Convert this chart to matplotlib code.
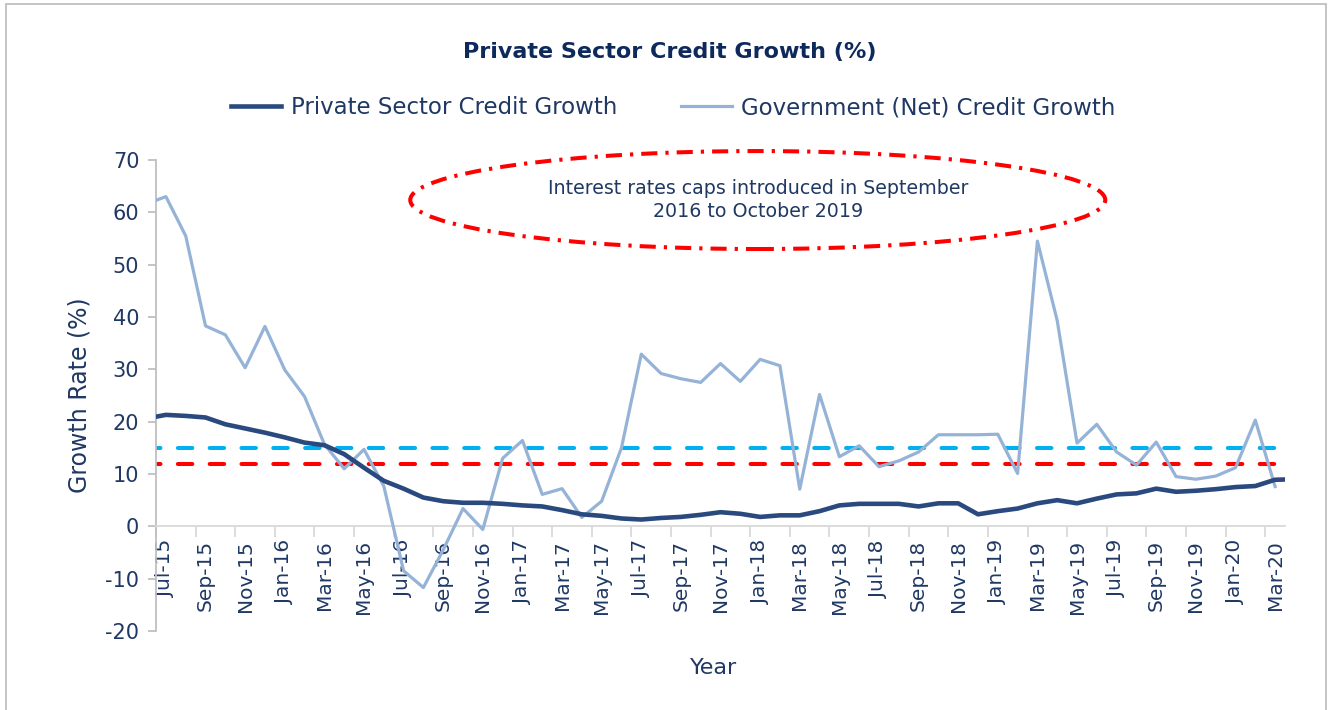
import matplotlib
matplotlib.use("Agg")
import matplotlib.pyplot as plt
from matplotlib.patches import Ellipse, Rectangle
from matplotlib.ticker import FixedLocator

plt.rcParams['font.family'] = ['DejaVu Sans']
plt.rcParams['axes.unicode_minus'] = False

# monthly data, Jun-15 .. Apr-20 (first and last points sit outside the axis and get clipped)
private = [20.6, 21.3, 21.1, 20.8, 19.5, 18.7, 17.9,
           17.0, 16.0, 15.5, 13.8, 11.2, 8.7, 7.2, 5.5, 4.8, 4.5, 4.5, 4.3,
           4.0, 3.8, 3.1, 2.3, 2.0, 1.5, 1.3, 1.6, 1.8, 2.2, 2.7, 2.4,
           1.8, 2.1, 2.1, 2.9, 4.0, 4.3, 4.3, 4.3, 3.8, 4.4, 4.4, 2.3,
           2.9, 3.4, 4.4, 5.0, 4.4, 5.3, 6.1, 6.3, 7.2, 6.6, 6.8, 7.1,
           7.5, 7.7, 8.9, 9.0]
# Jun-15 .. Mar-20
government = [61.6, 63.0, 55.5, 38.3, 36.6, 30.3, 38.2,
              29.9, 24.8, 15.7, 11.0, 14.7, 7.7, -8.5, -11.7, -4.5, 3.4, -0.6, 13.0,
              16.4, 6.1, 7.2, 1.7, 4.8, 15.0, 32.9, 29.2, 28.2, 27.5, 31.1, 27.7,
              31.9, 30.7, 7.1, 25.2, 13.3, 15.4, 11.4, 12.5, 14.2, 17.5, 17.5, 17.5,
              17.6, 10.1, 54.5, 39.3, 15.9, 19.5, 14.2, 11.7, 16.1, 9.5, 9.0, 9.6,
              11.2, 20.3, 7.6]
cap_high = 15
cap_low = 12

labels = ["Jul-15", "Sep-15", "Nov-15", "Jan-16", "Mar-16", "May-16", "Jul-16",
          "Sep-16", "Nov-16", "Jan-17", "Mar-17", "May-17", "Jul-17", "Sep-17",
          "Nov-17", "Jan-18", "Mar-18", "May-18", "Jul-18", "Sep-18", "Nov-18",
          "Jan-19", "Mar-19", "May-19", "Jul-19", "Sep-19", "Nov-19", "Jan-20",
          "Mar-20"]
n_months = 57  # Jul-15 .. Mar-20

navy = '#1F3864'
dark = '#2A4A7F'
light = '#95B3D7'

fig = plt.figure(figsize=(13.28, 7.10), dpi=100)
ax = fig.add_axes([156/1328, 1 - 631/710, 1129/1328, 471/710])

x_priv = list(range(-1, len(private) - 1))
x_gov = list(range(-1, len(government) - 1))

ax.plot([-1, n_months - 1], [cap_high, cap_high], color='#00B0F0', lw=2.9,
        dashes=(3.6, 4.3), dash_capstyle='round', zorder=2)
ax.plot([-1, n_months - 1], [cap_low, cap_low], color='#FF0000', lw=2.9,
        dashes=(3.6, 4.3), dash_capstyle='round', zorder=2)
ax.plot(x_gov, government, color=light, lw=2.3, zorder=3,
        label="Government (Net) Credit Growth")
ax.plot(x_priv, private, color=dark, lw=3.3, zorder=4,
        label="Private Sector Credit Growth")

ax.set_xlim(-0.5, n_months - 0.5)
ax.set_ylim(-20, 70)
ax.set_yticks(range(-20, 71, 10))

# category axis: tick marks between categories, labels on categories
ax.xaxis.set_major_locator(FixedLocator([i - 0.5 for i in range(0, n_months + 1, 2)]))
ax.xaxis.set_major_formatter(plt.NullFormatter())
ax.xaxis.set_minor_locator(FixedLocator(list(range(0, n_months, 2))))
ax.set_xticklabels(labels, minor=True)
ax.tick_params(axis='x', which='major', length=8, width=1.3, color='#D9D9D9', direction='out')
ax.tick_params(axis='x', which='minor', length=0, pad=10, labelsize=14.5,
               labelcolor=navy, labelrotation=90)
ax.tick_params(axis='y', length=6, width=1.3, color='#BFBFBF', labelsize=15,
               labelcolor=navy, pad=6)

ax.spines['bottom'].set_position(('data', 0))
ax.spines['bottom'].set_color('#D9D9D9')
ax.spines['bottom'].set_linewidth(1.3)
ax.spines['left'].set_color('#BFBFBF')
ax.spines['left'].set_linewidth(1.3)
ax.spines['top'].set_visible(False)
ax.spines['right'].set_visible(False)

ax.set_ylabel("Growth Rate (%)", fontsize=17, color=navy, labelpad=10)
fig.text(714/1328, 1 - 668/710, "Year", fontsize=16, color=navy, ha='center', va='center')

fig.text(670/1328, 1 - 52/710, "Private Sector Credit Growth (%)", fontsize=16,
         fontweight='bold', color='#0E2A5C', ha='center', va='center')

handles, lbls = ax.get_legend_handles_labels()
leg = fig.legend(handles[::-1], lbls[::-1], loc='center', ncol=2,
                 bbox_to_anchor=(673/1328, 1 - 108/710), frameon=False,
                 fontsize=16.5, handlelength=2.2, handletextpad=0.4, columnspacing=2.8)
for t in leg.get_texts():
    t.set_color(navy)

ell = Ellipse((0.533, 0.915), 0.6156, 0.208, transform=ax.transAxes, fill=False,
              edgecolor='#FF0000', lw=2.9, linestyle=(0, (4, 2, 0.8, 2)), clip_on=False,
              zorder=5)
ax.add_patch(ell)
ax.text(0.533, 0.915, "Interest rates caps introduced in September\n2016 to October 2019",
        transform=ax.transAxes, ha='center', va='center', fontsize=13.7, color=navy,
        linespacing=1.3)

fig.patches.append(Rectangle((6/1328, -0.01), 1320/1328, 1 - 4/710 + 0.01,
                             transform=fig.transFigure, fill=False,
                             edgecolor='#BFBFBF', lw=1.3))

fig.savefig("out.png", dpi=100)
